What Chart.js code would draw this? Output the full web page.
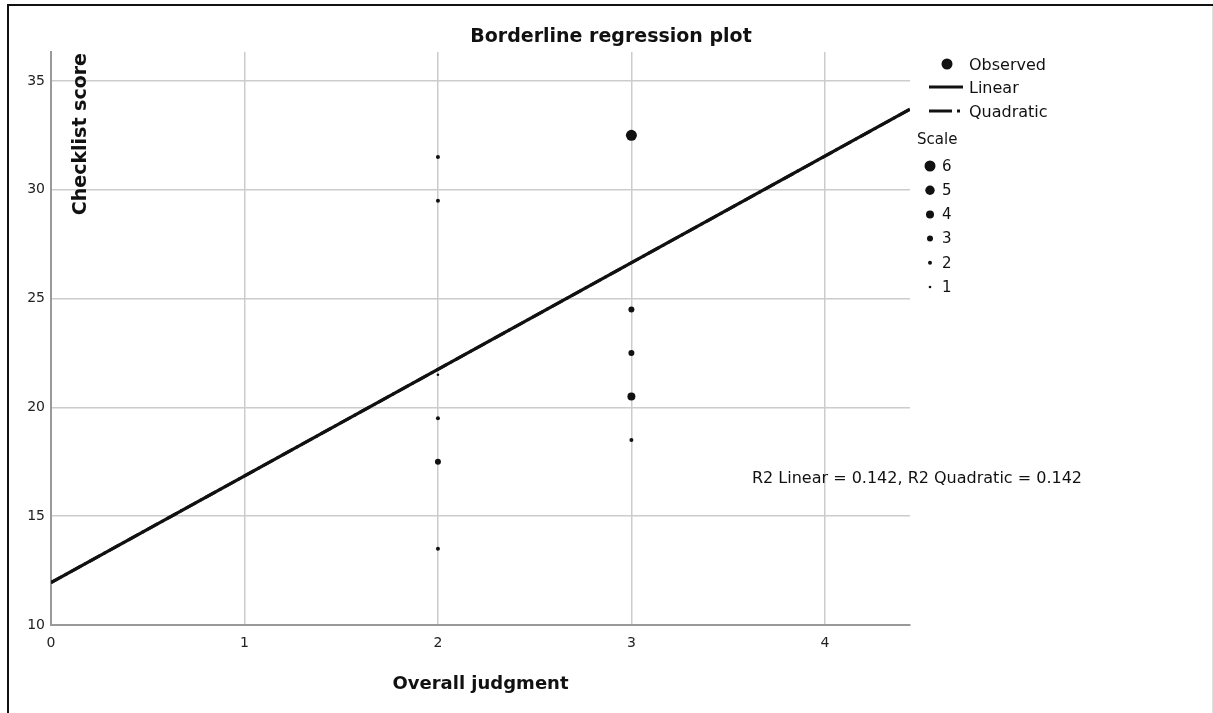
<!DOCTYPE html>
<html>
<head>
<meta charset="utf-8">
<title>Borderline regression plot</title>
<script src="https://cdn.jsdelivr.net/npm/chart.js@4.4.0/dist/chart.umd.min.js"></script>
<style>
  html, body { margin: 0; padding: 0; background: #fff; }
  canvas { display: block; }
</style>
</head>
<body>
<canvas id="chart" width="1213" height="713"></canvas>
<script>
// observed points: overall judgment, checklist score, number of cases at that spot
const judgment = [2, 2, 2, 2, 2, 2, 3, 3, 3, 3, 3];
const checklist = [31.5, 29.5, 21.5, 19.5, 17.5, 13.5, 32.5, 24.5, 22.5, 20.5, 18.5];
const caseCount = [2, 2, 1, 2, 3, 2, 6, 3, 3, 4, 2];

// fitted lines (linear and quadratic coincide), ends
const fitJudgment = [0, 4.44];
const fitLinear = [11.95, 33.7];
const fitQuadratic = [11.95, 33.7];

const xTicks = [0, 1, 2, 3, 4];
const yTicks = [10, 15, 20, 25, 30, 35];
const scaleLevels = [6, 5, 4, 3, 2, 1];
const r2Text = 'R2 Linear = 0.142, R2 Quadratic = 0.142';

// dot radius for each scale level (index = count)
const dotRadius = [0, 1.3, 2, 3, 4, 4.7, 5.5];
const FONT = '"DejaVu Sans", "Liberation Sans", Arial, sans-serif';

const observed = judgment.map((x, i) => ({ x, y: checklist[i] }));
const linear = fitJudgment.map((x, i) => ({ x, y: fitLinear[i] }));
const quadratic = fitJudgment.map((x, i) => ({ x, y: fitQuadratic[i] }));

const decor = {
  id: 'decor',
  beforeDraw(chart) {
    const ctx = chart.ctx;
    ctx.save();
    ctx.fillStyle = '#fff';
    ctx.fillRect(0, 0, chart.width, chart.height);
    // outer frame (top and left only visible)
    ctx.fillStyle = '#111';
    ctx.fillRect(7, 4, chart.width - 7, 2);
    ctx.fillRect(7, 4, 2, chart.height - 4);
    ctx.fillStyle = '#e2e2e2';
    ctx.fillRect(chart.width - 1, 6, 1, chart.height - 6);
    ctx.restore();
  },
  afterDraw(chart) {
    const ctx = chart.ctx;
    const area = chart.chartArea;
    ctx.save();
    ctx.fillStyle = '#111';

    // title
    ctx.font = 'bold 19px ' + FONT;
    ctx.textAlign = 'center';
    ctx.textBaseline = 'middle';
    ctx.fillText('Borderline regression plot', 611, 37);

    // x axis title
    ctx.font = 'bold 18px ' + FONT;
    ctx.fillText('Overall judgment', (area.left + area.right) / 2, 684);

    // y axis title, inside the plot
    ctx.save();
    ctx.translate(81, 53);
    ctx.rotate(-Math.PI / 2);
    ctx.textAlign = 'right';
    ctx.font = 'bold 19px ' + FONT;
    ctx.fillText('Checklist score', 0, 0);
    ctx.restore();

    // legend
    ctx.textAlign = 'left';
    ctx.font = '16px ' + FONT;
    ctx.beginPath();
    ctx.arc(947, 64, 5.5, 0, Math.PI * 2);
    ctx.fill();
    ctx.fillText('Observed', 969, 66);

    ctx.strokeStyle = '#111';
    ctx.lineWidth = 3;
    ctx.beginPath();
    ctx.moveTo(929, 87);
    ctx.lineTo(963, 87);
    ctx.stroke();
    ctx.fillText('Linear', 969, 89);

    ctx.beginPath();
    ctx.moveTo(929, 111);
    ctx.lineTo(952, 111);
    ctx.moveTo(957, 111);
    ctx.lineTo(960, 111);
    ctx.stroke();
    ctx.fillText('Quadratic', 969, 113);

    ctx.font = '15px ' + FONT;
    ctx.fillText('Scale', 917, 140);
    scaleLevels.forEach((lv, i) => {
      const y = 166 + i * 24.2;
      ctx.beginPath();
      ctx.arc(930, y, dotRadius[lv], 0, Math.PI * 2);
      ctx.fill();
      ctx.fillText(String(lv), 942, y + 1);
    });

    // fit annotation
    ctx.font = '16px ' + FONT;
    ctx.textAlign = 'right';
    ctx.fillText(r2Text, 1082, 479);
    ctx.restore();
  }
};

new Chart(document.getElementById('chart'), {
  type: 'scatter',
  data: {
    datasets: [
      {
        label: 'Quadratic',
        type: 'line',
        data: quadratic,
        borderColor: '#111',
        borderWidth: 3,
        borderDash: [12, 4, 2, 4],
        pointRadius: 0,
        order: 3
      },
      {
        label: 'Linear',
        type: 'line',
        data: linear,
        borderColor: '#111',
        borderWidth: 3.2,
        pointRadius: 0,
        order: 2
      },
      {
        label: 'Observed',
        data: observed,
        backgroundColor: '#111',
        borderColor: '#111',
        borderWidth: 0,
        pointRadius: ctx => dotRadius[caseCount[ctx.dataIndex]] || 2,
        order: 1
      }
    ]
  },
  options: {
    responsive: false,
    animation: false,
    layout: { padding: { left: 0, top: 52, right: 303, bottom: 0 } },
    plugins: {
      legend: { display: false },
      tooltip: { enabled: false }
    },
    scales: {
      x: {
        type: 'linear',
        min: 0,
        max: 4.44,
        afterBuildTicks: s => { s.ticks = xTicks.map(v => ({ value: v })); },
        afterFit: s => { s.height = 88; },
        grid: { color: '#cccccc', lineWidth: 1.5, drawTicks: false },
        border: { color: '#999999', width: 2 },
        ticks: { color: '#222', padding: 10, maxRotation: 0, font: { family: FONT, size: 14 } }
      },
      y: {
        type: 'linear',
        min: 10,
        max: 36.33,
        afterBuildTicks: s => { s.ticks = yTicks.map(v => ({ value: v })); },
        afterFit: s => { s.width = 51; },
        grid: { color: '#cccccc', lineWidth: 1.5, drawTicks: false },
        border: { color: '#999999', width: 2 },
        ticks: { color: '#222', padding: 6, font: { family: FONT, size: 14 } }
      }
    }
  },
  plugins: [decor]
});
</script>
</body>
</html>
